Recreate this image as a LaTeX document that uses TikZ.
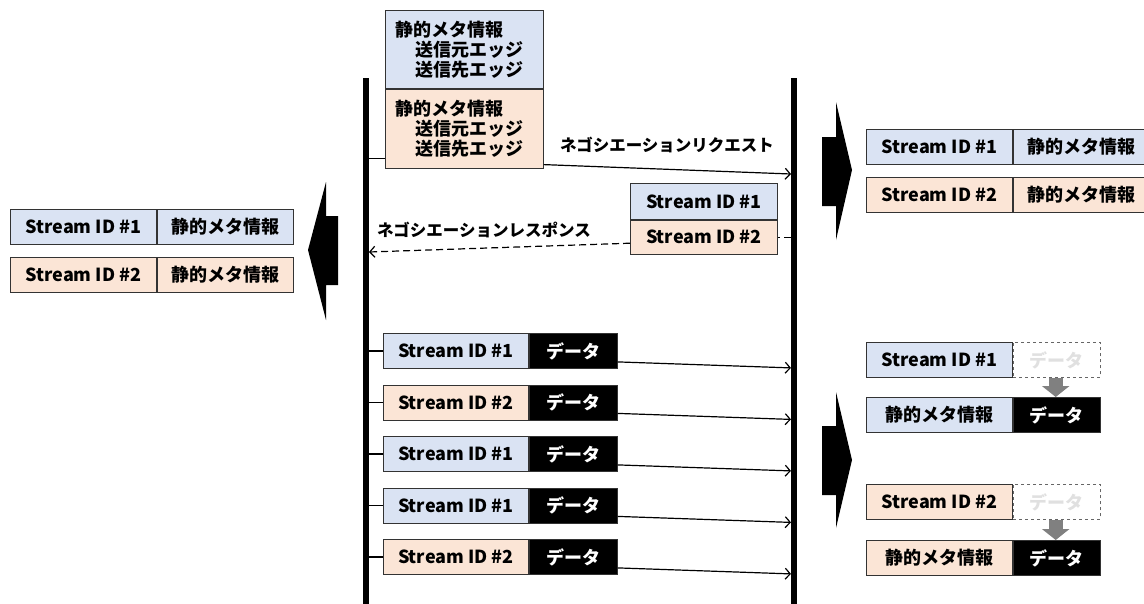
\documentclass[tikz,border=0pt]{standalone}
\usepackage{fontspec}
\setmainfont{Noto Sans CJK JP}
\usetikzlibrary{arrows.meta,positioning}
\definecolor{idblue}{RGB}{218,227,243}
\definecolor{idorange}{RGB}{251,229,214}

\begin{document}
\begin{tikzpicture}[x=1pt, y=-1pt,
  font=\fontsize{18}{20}\selectfont\bfseries,
  cell/.style={draw=black!80, line width=0.8pt, inner sep=0pt, minimum height=35pt, anchor=north west},
  sid/.style={cell, minimum width=146pt},
  meta/.style={cell, minimum width=136pt},
  dat/.style={cell, fill=black, text=white, minimum width=88pt},
  ghost/.style={cell, dashed, draw=black!60, text=black!12, minimum width=87pt},
  lbl/.style={font=\fontsize{16.5}{18}\selectfont\bfseries},
  life/.style={line width=6pt},
  msg/.style={-{Straight Barb[length=5pt,width=11pt]}, line width=1.2pt},
  resp/.style={msg, dash pattern=on 7pt off 4pt},
  down/.style={draw=black!50, line width=14pt, -{Triangle[length=11pt,width=27pt]}}
]
\useasboundingbox (0,0) rectangle (1144,603);

\coordinate (Lt) at (366,78);
\coordinate (Lb) at (366,610);
\coordinate (Rt) at (794,78);
\coordinate (Rb) at (794,610);
\draw[life] (Lt) -- (Lb);
\draw[life] (Rt) -- (Rb);

\node[cell, fill=idblue, minimum height=78pt, inner xsep=10pt, text width=138pt, align=left] (meta1) at (385,10)
  {静的メタ情報\\\hspace*{20pt}送信元エッジ\\\hspace*{20pt}送信先エッジ};
\node[cell, fill=idorange, minimum height=79pt, inner xsep=10pt, text width=138pt, align=left, below=0pt of meta1] (meta2)
  {静的メタ情報\\\hspace*{20pt}送信元エッジ\\\hspace*{20pt}送信先エッジ};
\coordinate (reqL) at ([yshift=-30pt]meta2.west);
\draw[line width=1.2pt] (reqL) -- (reqL -| Lt);
\coordinate (reqR) at ([xshift=-3pt]Rt |- 0,174);
\draw[msg] ([yshift=4pt]meta2.south east) -- (reqR);
\node[lbl] (reqlbl) at (667,145) {ネゴシエーションリクエスト};

\node[cell, fill=idblue, minimum width=147pt, minimum height=36pt] (res1) at (630,183) {Stream ID \#1};
\node[cell, fill=idorange, minimum width=147pt, minimum height=34pt, below=0pt of res1] (res2) {Stream ID \#2};
\draw[line width=1.2pt, dash pattern=on 7pt off 4pt] ([xshift=-3pt]res2.east -| Rt) -- (res2.east);
\coordinate (resL) at ([xshift=3pt]Lt |- 0,252);
\draw[resp] ([yshift=-6pt]res2.west) -- (resL);
\node[lbl] (reslbl) at (484,230) {ネゴシエーションレスポンス};

\node[sid, fill=idblue] (l1) at (10,209) {Stream ID \#1};
\node[meta, fill=idblue, right=0pt of l1] (l1m) {静的メタ情報};
\node[sid, fill=idorange] (l2) at (10,257) {Stream ID \#2};
\node[meta, fill=idorange, right=0pt of l2] (l2m) {静的メタ情報};

\node[sid, fill=idblue] (t1) at (866,129) {Stream ID \#1};
\node[meta, fill=idblue, right=0pt of t1] (t1m) {静的メタ情報};
\node[sid, fill=idorange] (t2) at (866,177) {Stream ID \#2};
\node[meta, fill=idorange, right=0pt of t2] (t2m) {静的メタ情報};

\fill (308,250) -- (326,182) -- (326,216) -- (338,216) -- (338,285) -- (326,285) -- (326,320) -- cycle;
\fill (852,170) -- (836,102) -- (836,137) -- (822,137) -- (822,206) -- (836,206) -- (836,240) -- cycle;
\fill (852,460) -- (836,392) -- (836,426) -- (822,426) -- (822,495) -- (836,495) -- (836,528) -- cycle;

\foreach \i/\id/\col in {1/1/idblue, 2/2/idorange, 3/1/idblue, 4/1/idblue, 5/2/idorange} {
  \node[sid, fill=\col, minimum width=145pt] (s\i) at (383,{333+(\i-1)*51.5}) {Stream ID \#\id};
  \node[dat, right=0pt of s\i] (d\i) {データ};
  \draw[line width=1.2pt] (s\i.west) -- (s\i.west -| Lt);
  \coordinate (e\i) at ([xshift=-3pt,yshift=-17pt]d\i.east -| Rt);
  \draw[msg] ([yshift=-11pt]d\i.east) -- (e\i);
}

\node[sid, fill=idblue] (r1) at (866,342) {Stream ID \#1};
\node[ghost, right=0pt of r1] (r1d) {データ};
\node[sid, fill=idblue] (r1m) at (866,397) {静的メタ情報};
\node[dat, minimum width=87pt, right=0pt of r1m] (r1x) {データ};
\draw[down] ([xshift=-1pt]r1d.south) -- ([xshift=-1pt]r1x.north);

\node[sid, fill=idorange] (r2) at (866,484) {Stream ID \#2};
\node[ghost, right=0pt of r2] (r2d) {データ};
\node[sid, fill=idorange] (r2m) at (866,540) {静的メタ情報};
\node[dat, minimum width=87pt, right=0pt of r2m] (r2x) {データ};
\draw[down] ([xshift=-1pt]r2d.south) -- ([xshift=-1pt]r2x.north);
\end{tikzpicture}
\end{document}
